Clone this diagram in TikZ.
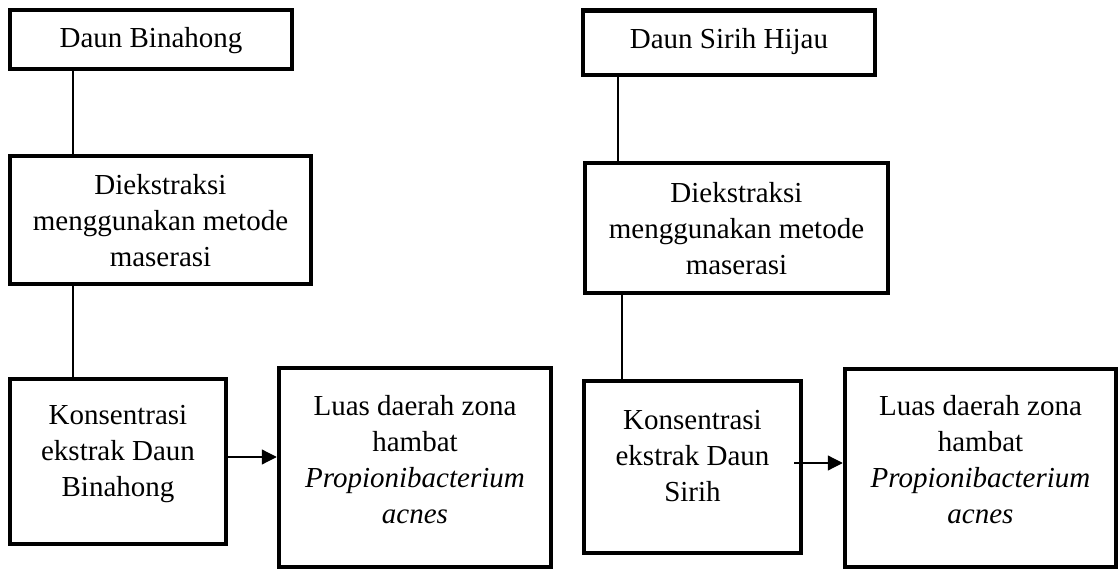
\documentclass[tikz,border=0pt]{standalone}
\usepackage{fontspec}
\setmainfont{Liberation Serif}
\usetikzlibrary{arrows.meta}
\begin{document}
\begin{tikzpicture}[x=1pt,y=-1pt,
  box/.style={draw, line width=4.5pt, rectangle, inner sep=0pt},
  txt/.style={align=center, inner sep=0pt, font=\fontsize{29}{36}\selectfont},
  conn/.style={line width=1.2pt},
  arr/.style={line width=1.2pt, -{Triangle[length=15pt,width=15pt]}}]
\useasboundingbox (0,0) rectangle (1120,569);
% left column
\node[box, minimum width=282pt, minimum height=59pt] (b1) at (151,39.5) {};
\node[txt] (t1) at ([yshift=-1.5pt]b1.center) {Daun Binahong};
\node[box, minimum width=301pt, minimum height=128pt] (b2) at (160.5,220) {};
\node[txt] (t2) at ([yshift=-1pt]b2.center) {Diekstraksi\\menggunakan metode\\maserasi};
\node[box, minimum width=216pt, minimum height=165pt] (b3) at (118,461.5) {};
\node[txt] (t3) at ([yshift=7pt]b3.center) {Konsentrasi\\ekstrak Daun\\Binahong};
\node[box, minimum width=272pt, minimum height=199pt] (b4) at (415,467.5) {};
\node[txt] (t4) at ([yshift=7.5pt]b4.center) {Luas daerah zona\\hambat\\\textit{Propionibacterium}\\\textit{acnes}};
% right column
\node[box, minimum width=292pt, minimum height=64.5pt] (b5) at (729,42.75) {};
\node[txt] (t5) at ([yshift=1.5pt]b5.center) {Daun Sirih Hijau};
\node[box, minimum width=303pt, minimum height=130pt] (b6) at (736.5,228) {};
\node[txt] (t6) at ([yshift=-1pt]b6.center) {Diekstraksi\\menggunakan metode\\maserasi};
\node[box, minimum width=217pt, minimum height=172pt] (b7) at (692.5,467) {};
\node[txt] (t7) at ([yshift=11pt]b7.center) {Konsentrasi\\ekstrak Daun\\Sirih};
\node[box, minimum width=271pt, minimum height=198pt] (b8) at (980.5,468) {};
\node[txt] (t8) at ([yshift=8pt]b8.center) {Luas daerah zona\\hambat\\\textit{Propionibacterium}\\\textit{acnes}};
% connectors
\draw[conn] (b1.south -| 73,0) -- (b2.north -| 73,0);
\draw[conn] (b2.south -| 73,0) -- (b3.north -| 73,0);
\draw[conn] (b5.south -| 618,0) -- (b6.north -| 618,0);
\draw[conn] (b6.south -| 622,0) -- (b7.north -| 622,0);
\draw[arr] (b3.east |- 0,457) -- (b4.west |- 0,457);
\draw[arr] ([xshift=-9pt]b7.east |- 0,463) -- (b8.west |- 0,463);
\end{tikzpicture}
\end{document}
